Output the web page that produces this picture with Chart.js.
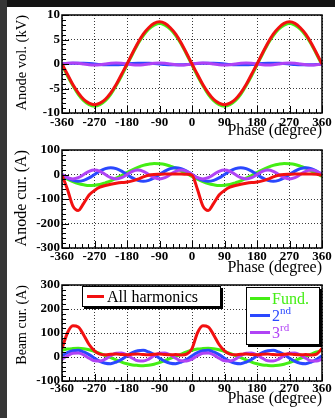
<!DOCTYPE html>
<html>
<head>
<meta charset="utf-8">
<script src="https://cdn.jsdelivr.net/npm/chart.js@4.4.1/dist/chart.umd.min.js"></script>
<style>
  html, body { margin: 0; padding: 0; background: #fff; }
  #wrap { position: relative; width: 335px; height: 418px; overflow: hidden; background: #fff; }
  #wrap canvas { position: absolute; left: 0; top: 0; }
  .strip-top { position: absolute; left: 0; top: 0; width: 335px; height: 7px; background: #141414; }
  .strip-left { position: absolute; left: 0; top: 0; width: 7px; height: 418px; background: #363636; }
  .legend { position: absolute; box-sizing: border-box; background: #fff; border: 1px solid #000;
            box-shadow: 2px 2px 0 #000; font-family: "Liberation Serif", "Times New Roman", serif; font-size: 16px; }
  .entry { position: absolute; height: 18px; line-height: 18px; white-space: nowrap; }
  .entry i { position: absolute; top: 7px; height: 3px; }
  .entry span { position: absolute; top: 0; }
  .entry sup { font-size: 11px; position: relative; top: -2px; vertical-align: top; line-height: 11px; }
</style>
</head>
<body>
<div id="wrap">
  <canvas id="volt" width="335" height="418"></canvas>
  <canvas id="anode" width="335" height="418"></canvas>
  <canvas id="beam" width="335" height="418"></canvas>
  <div class="strip-top"></div>
  <div class="strip-left"></div>
  <div class="legend" id="legAll" style="left:82px; top:286px; width:139px; height:21px;"></div>
  <div class="legend" id="legHarm" style="left:246px; top:287px; width:74px; height:58px;"></div>
</div>
<script>
// phase samples (degree)
const phase = [-360,-345,-330,-315,-300,-285,-270,-255,-240,-225,-210,-195,
  -180,-165,-150,-135,-120,-105,-90,-75,-60,-45,-30,-15,
  0,15,30,45,60,75,90,105,120,135,150,165,
  180,195,210,225,240,255,270,285,300,315,330,345,360];
const xTicks = [-360,-270,-180,-90,0,90,180,270,360];

const seriesNames = ['All harmonics', 'Fund.', '2nd', '3rd'];
const seriesColors = ['#f21010', '#44ee14', '#2a48ff', '#b043f5'];

// anode voltage (kV)
const voltAll = [0,-2.1,-4.2,-5.9,-7.2,-8.0,-8.3,-8.0,-7.2,-5.9,-4.2,-2.1,
  0,2.2,4.3,6.1,7.4,8.3,8.6,8.3,7.4,6.1,4.3,2.2,
  0,-2.1,-4.2,-5.9,-7.2,-8.0,-8.3,-8.0,-7.2,-5.9,-4.2,-2.1,
  0,2.2,4.3,6.1,7.4,8.3,8.6,8.3,7.4,6.1,4.3,2.2,0];
const voltFund = [-0.2,-2.4,-4.4,-6.2,-7.5,-8.3,-8.6,-8.3,-7.5,-6.2,-4.4,-2.4,
  -0.2,2.0,4.1,5.8,7.1,7.9,8.3,7.9,7.1,5.8,4.1,2.0,
  -0.2,-2.4,-4.4,-6.2,-7.5,-8.3,-8.6,-8.3,-7.5,-6.2,-4.4,-2.4,
  -0.2,2.0,4.1,5.8,7.1,7.9,8.3,7.9,7.1,5.8,4.1,2.0,-0.2];
const volt2nd = [0,0.1,0.15,0.15,0.15,0.1,0,-0.1,-0.15,-0.15,-0.15,-0.1,
  0,0.1,0.15,0.15,0.15,0.1,0,-0.1,-0.15,-0.15,-0.15,-0.1,
  0,0.1,0.15,0.15,0.15,0.1,0,-0.1,-0.15,-0.15,-0.15,-0.1,
  0,0.1,0.15,0.15,0.15,0.1,0,-0.1,-0.15,-0.15,-0.15,-0.1,0];
const volt3rd = [0,0.15,0.2,0.15,0,-0.15,-0.2,-0.15,0,0.15,0.2,0.15,
  0,-0.15,-0.2,-0.15,0,0.15,0.2,0.15,0,-0.15,-0.2,-0.15,
  0,0.15,0.2,0.15,0,-0.15,-0.2,-0.15,0,0.15,0.2,0.15,
  0,-0.15,-0.2,-0.15,0,0.15,0.2,0.15,0,-0.15,-0.2,-0.15,0];

// anode current (A)
const anodeAll = [-3,-60,-128,-147,-118,-84,-65,-52,-45,-40,-36,-33,
  -31,-26,-19,-10,-3,0,1,2,2,2,2,1,
  -3,-60,-128,-147,-118,-84,-65,-52,-45,-40,-36,-33,
  -31,-26,-19,-10,-3,0,1,2,2,2,2,1,-3];
const anodeFund = [-8,-19,-29,-37,-42,-45,-44,-41,-34,-26,-15,-4,
  8,19,29,37,42,45,44,41,34,26,15,4,
  -8,-19,-29,-37,-42,-45,-44,-41,-34,-26,-15,-4,
  8,19,29,37,42,45,44,41,34,26,15,4,-8];
const anode2nd = [0,-14,-24,-28,-24,-14,0,14,24,28,24,14,
  0,-14,-24,-28,-24,-14,0,14,24,28,24,14,
  0,-14,-24,-28,-24,-14,0,14,24,28,24,14,
  0,-14,-24,-28,-24,-14,0,14,24,28,24,14,0];
const anode3rd = [0,-13,-18,-13,0,13,18,13,0,-13,-18,-13,
  0,13,18,13,0,-13,-18,-13,0,13,18,13,
  0,-13,-18,-13,0,13,18,13,0,-13,-18,-13,
  0,13,18,13,0,-13,-18,-13,0,13,18,13,0];

// beam current (A)
const beamAll = [35,100,130,125,92,52,26,12,9,11,12,10,
  9,11,12,10,9,11,12,10,9,10,8,12,
  35,100,130,125,92,52,26,12,9,11,12,10,
  9,11,12,10,9,11,12,10,9,10,8,12,35];
const beamFund = [28,33,35,36,34,30,23,15,6,-3,-12,-21,
  -28,-33,-35,-36,-34,-30,-23,-15,-6,3,12,21,
  28,33,35,36,34,30,23,15,6,-3,-12,-21,
  -28,-33,-35,-36,-34,-30,-23,-15,-6,3,12,21,28];
const beam2nd = [5,18,26,28,21,10,-5,-18,-26,-28,-21,-10,
  5,18,26,28,21,10,-5,-18,-26,-28,-21,-10,
  5,18,26,28,21,10,-5,-18,-26,-28,-21,-10,
  5,18,26,28,21,10,-5,-18,-26,-28,-21,-10,5];
const beam3rd = [-9,5,16,17,9,-5,-16,-17,-9,5,16,17,
  9,-5,-16,-17,-9,5,16,17,9,-5,-16,-17,
  -9,5,16,17,9,-5,-16,-17,-9,5,16,17,
  9,-5,-16,-17,-9,5,16,17,9,-5,-16,-17,-9];

const voltTicks = [-10,-5,0,5,10];
const anodeTicks = [-300,-200,-100,0,100];
const beamTicks = [-100,0,100,200,300];

const serif = '"Liberation Serif", "Times New Roman", serif';
const tickFont = { family: serif, size: 13, weight: 'bold' };
const titleFont = { family: serif, size: 16, weight: 'normal' };

// ROOT-like frame with inward ticks on the left and bottom axes
const framePlugin = {
  id: 'frame',
  afterDatasetsDraw(chart, args, opts) {
    const { ctx, chartArea: a, scales: { x, y } } = chart;
    ctx.save();
    ctx.strokeStyle = '#000';
    ctx.lineWidth = 1;
    ctx.beginPath();
    for (let i = 0; x.min + i * opts.xMinor <= x.max + 1e-9; i++) {
      const v = x.min + i * opts.xMinor;
      const px = Math.round(x.getPixelForValue(v)) + 0.5;
      const len = (i % opts.xDiv === 0) ? 7 : 4;
      ctx.moveTo(px, a.bottom);
      ctx.lineTo(px, a.bottom - len);
    }
    for (let i = 0; y.min + i * opts.yMinor <= y.max + 1e-9; i++) {
      const v = y.min + i * opts.yMinor;
      const py = Math.round(y.getPixelForValue(v)) + 0.5;
      const len = (i % 5 === 0) ? 7 : 4;
      ctx.moveTo(a.left, py);
      ctx.lineTo(a.left + len, py);
    }
    ctx.stroke();
    ctx.lineWidth = 1.5;
    ctx.strokeRect(a.left, a.top, a.right - a.left, a.bottom - a.top);
    ctx.restore();
  }
};

function makePanel(id, box, yTicks, yTitle, values, yMinor) {
  // first dataset is drawn on top
  const order = [0, 3, 2, 1];
  const datasets = order.map(i => ({
    label: seriesNames[i],
    data: phase.map((p, k) => ({ x: p, y: values[i][k] })),
    borderColor: seriesColors[i],
    borderWidth: 3,
    pointRadius: 0,
    fill: false,
    cubicInterpolationMode: 'monotone'
  }));
  const yTitleFont = { family: serif, size: box.yTitleSize, weight: 'normal' };
  return new Chart(document.getElementById(id), {
    type: 'line',
    data: { datasets: datasets },
    options: {
      responsive: false,
      animation: false,
      events: [],
      layout: {
        autoPadding: false,
        padding: { left: 0, right: 13, top: box.top, bottom: 418 - box.bottom - box.xH }
      },
      plugins: {
        legend: { display: false },
        tooltip: { enabled: false },
        frame: { xMinor: 18, xDiv: 5, yMinor: yMinor }
      },
      scales: {
        x: {
          type: 'linear',
          min: -360,
          max: 360,
          afterBuildTicks: s => { s.ticks = xTicks.map(v => ({ value: v })); },
          afterFit: s => { s.height = box.xH; },
          grid: { color: '#3a3a3a', lineWidth: 1, drawTicks: false },
          border: { display: false, dash: [1, 2] },
          ticks: { color: '#000', font: tickFont, padding: box.tickPad, maxRotation: 0, autoSkip: false },
          title: { display: true, text: 'Phase (degree)', align: 'end', color: '#000', font: titleFont, padding: 0 }
        },
        y: {
          min: yTicks[0],
          max: yTicks[yTicks.length - 1],
          afterBuildTicks: s => { s.ticks = yTicks.map(v => ({ value: v })); },
          afterFit: s => { s.width = 62; },
          grid: { color: '#3a3a3a', lineWidth: 1, drawTicks: false },
          border: { display: false, dash: [1, 2] },
          ticks: { color: '#000', font: tickFont, padding: 2 },
          title: {
            display: true, text: yTitle, align: 'end', color: '#000', font: yTitleFont,
            padding: { top: 22 - box.yTitleSize * 0.6, bottom: 0 }
          }
        }
      }
    },
    plugins: [framePlugin]
  });
}

makePanel('volt', { top: 15, bottom: 113, xH: 27, tickPad: 2, yTitleSize: 14.5 }, voltTicks, 'Anode vol. (kV)',
  [voltAll, voltFund, volt2nd, volt3rd], 1);
makePanel('anode', { top: 150, bottom: 248, xH: 29, tickPad: 1, yTitleSize: 16 }, anodeTicks, 'Anode cur. (A)',
  [anodeAll, anodeFund, anode2nd, anode3rd], 20);
const beamChart = makePanel('beam', { top: 285, bottom: 381, xH: 27, tickPad: 0, yTitleSize: 14 }, beamTicks, 'Beam cur. (A)',
  [beamAll, beamFund, beam2nd, beam3rd], 20);

// legends built from the beam current datasets
function legendEntry(ds, top, lineLeft, lineWidth, textLeft, colored) {
  const label = ds.label.replace(/^(\d)(st|nd|rd|th)$/, '$1<sup>$2</sup>');
  return '<div class="entry" style="left:0; top:' + top + 'px;">' +
    '<i style="left:' + lineLeft + 'px; width:' + lineWidth + 'px; background:' + ds.borderColor + ';"></i>' +
    '<span style="left:' + textLeft + 'px; color:' + (colored ? ds.borderColor : '#000') + ';">' + label + '</span></div>';
}
const byName = n => beamChart.data.datasets.find(d => d.label === n);
document.getElementById('legAll').innerHTML = legendEntry(byName('All harmonics'), 1, 4, 17, 24, false);
document.getElementById('legHarm').innerHTML =
  legendEntry(byName('Fund.'), 2, 3, 20, 25, true) +
  legendEntry(byName('2nd'), 19, 3, 20, 25, true) +
  legendEntry(byName('3rd'), 36, 3, 20, 25, true);
</script>
</body>
</html>
